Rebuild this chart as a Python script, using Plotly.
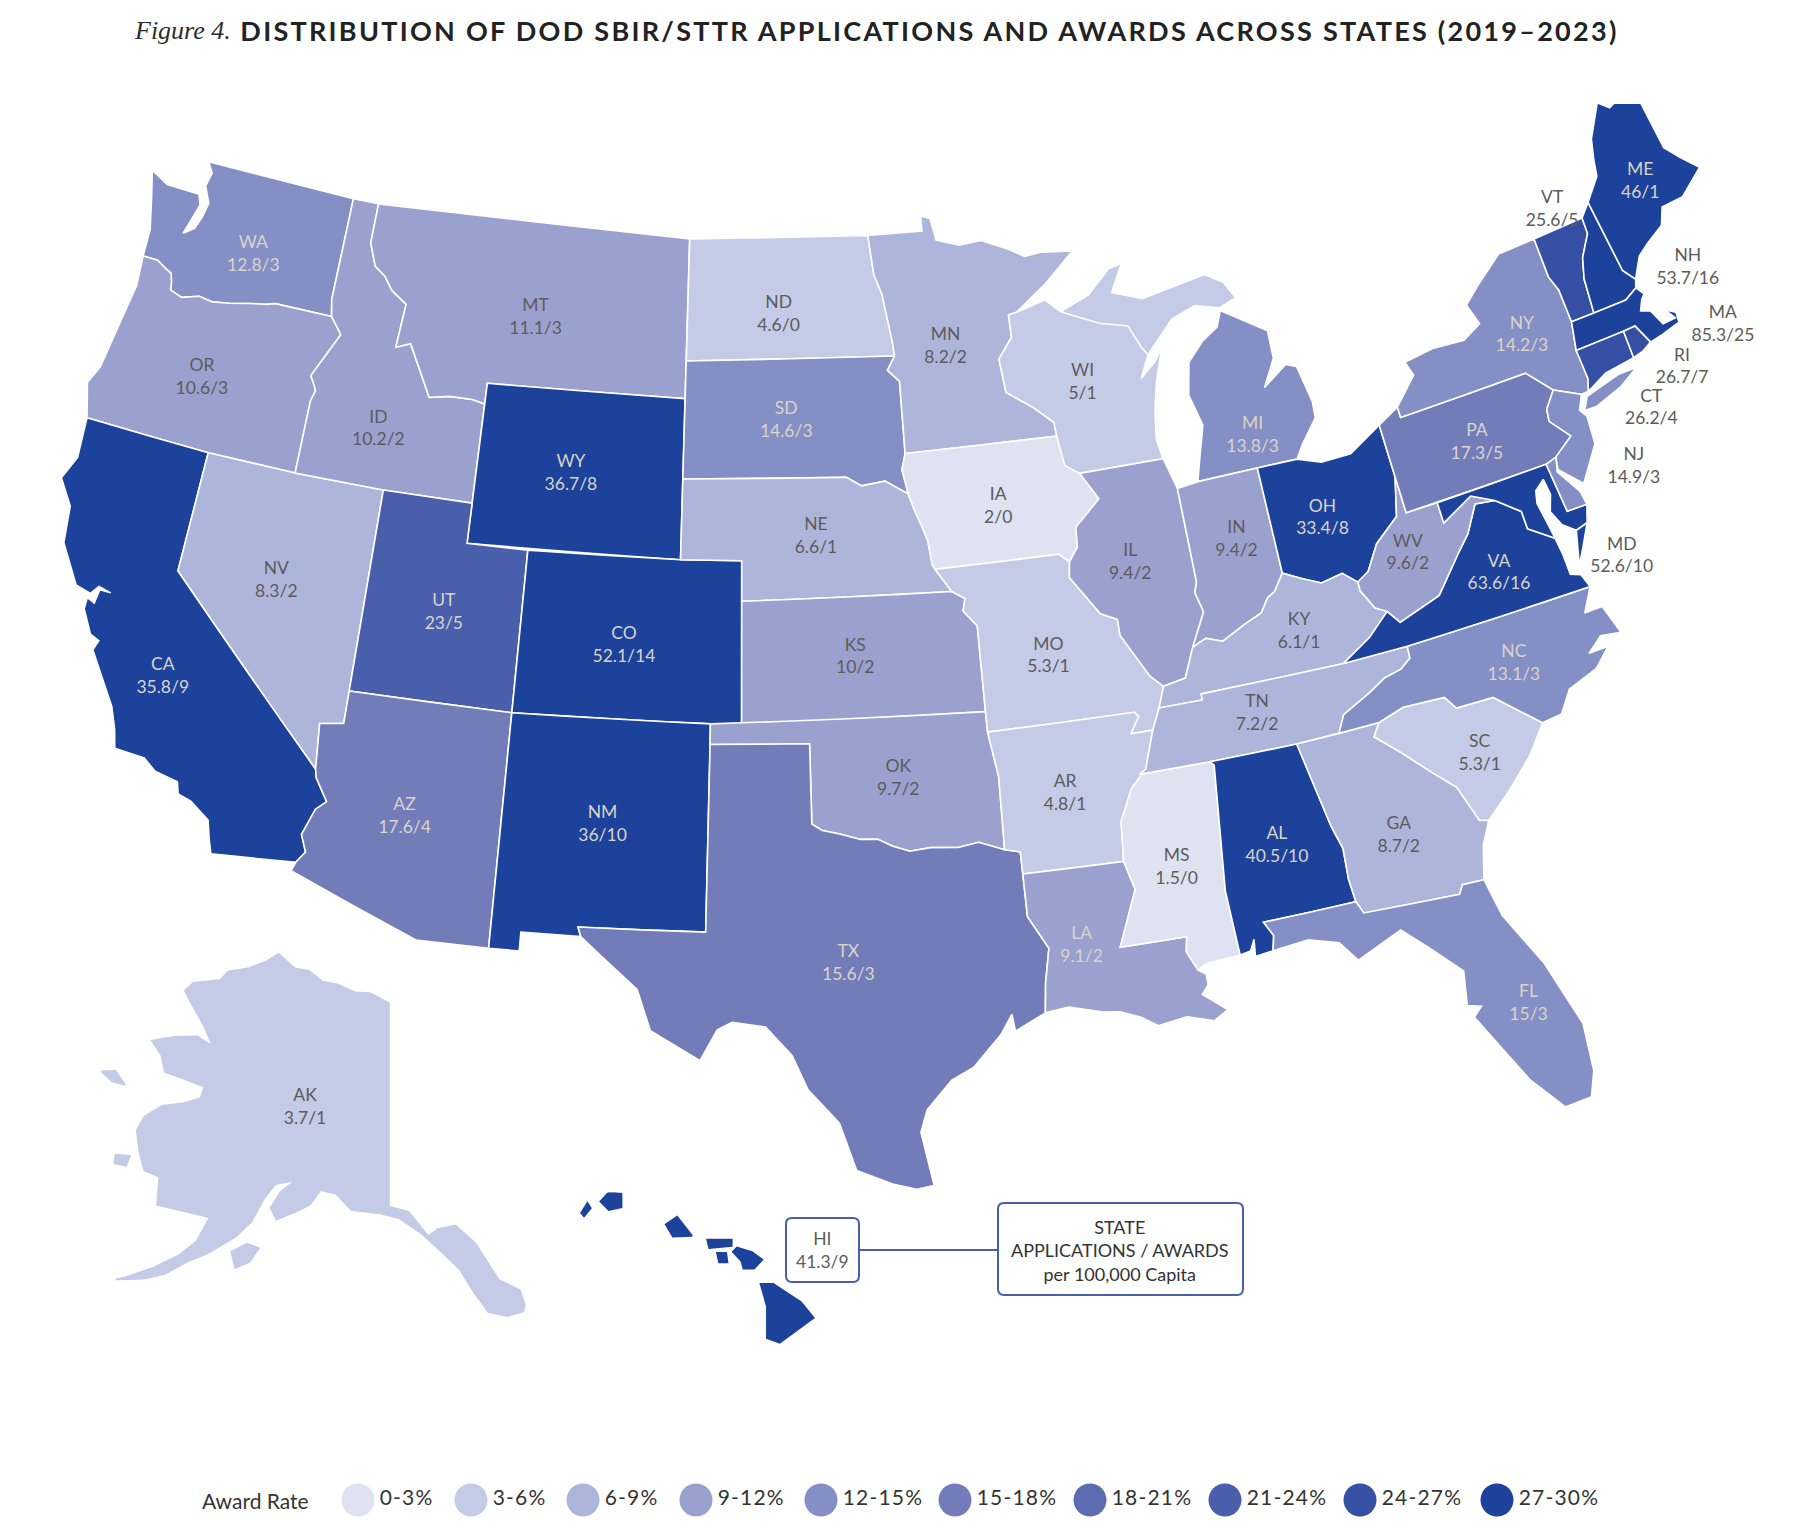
import plotly.graph_objects as go

bin_labels = ["0-3%", "3-6%", "6-9%", "9-12%", "12-15%", "15-18%", "18-21%", "21-24%", "24-27%", "27-30%"]
bin_colors = ["#dfe3f1", "#c4cbe6", "#adb6da", "#9aa1cf", "#848fc6", "#727cb9", "#5d6bb0", "#4a5fab", "#344fa3", "#1c429c"]

state_codes = ["WA", "OR", "CA", "NV", "ID", "MT", "WY", "UT", "AZ", "CO", "NM", "ND", "SD", "NE", "KS", "OK", "TX",
               "MN", "IA", "MO", "AR", "LA", "WI", "IL", "MS", "MI", "IN", "OH", "KY", "TN", "AL", "GA", "FL", "SC",
               "NC", "VA", "WV", "PA", "NY", "NJ", "VT", "NH", "ME", "MA", "CT", "RI", "MD", "DE", "AK", "HI"]
award_bin = [4, 3, 9, 2, 3, 3, 9, 7, 5, 9, 9, 1, 4, 2, 3, 3, 5,
             2, 0, 1, 1, 3, 1, 3, 0, 4, 3, 9, 2, 2, 9, 2, 4, 1,
             4, 9, 3, 5, 4, 4, 8, 9, 9, 9, 8, 8, 9, 4, 1, 9]
applications = [12.8, 10.6, 35.8, 8.3, 10.2, 11.1, 36.7, 23, 17.6, 52.1, 36, 4.6, 14.6, 6.6, 10, 9.7, 15.6,
                8.2, 2, 5.3, 4.8, 9.1, 5, 9.4, 1.5, 13.8, 9.4, 33.4, 6.1, 7.2, 40.5, 8.7, 15, 5.3,
                13.1, 63.6, 9.6, 17.3, 14.2, 14.9, 25.6, 53.7, 46, 85.3, 26.2, 26.7, 52.6, None, 3.7, 41.3]
awards = [3, 3, 9, 2, 2, 3, 8, 5, 4, 14, 10, 0, 3, 1, 2, 2, 3,
          2, 0, 1, 1, 2, 1, 2, 0, 3, 2, 8, 1, 2, 10, 2, 3, 1,
          3, 16, 2, 5, 3, 3, 5, 16, 1, 25, 4, 7, 10, None, 1, 9]

# where each state's two text lines sit (lon, lat)
label_codes = [c for c in state_codes if c not in ("DE", "HI")]
label_lon = [-120.2, -120.85, -119.65, -116.9, -114.55, -109.6, -107.85, -111.5, -111.85, -105.75, -106.1, -100.7, -100.5, -99.6, -98.5, -97.4, -99.1,
             -94.7, -93.5, -92.5, -92.55, -92.65, -90.05, -89.5, -89.7, -84.7, -86.0, -83.15, -84.75, -86.55, -86.8, -83.4, -81.25, -80.55,
             -78.8, -78.35, -80.85, -77.65, -75.0, -73.25, -72.35, -68.95, -69.1, -68.75, -72.0, -70.55, -74.65, -150.0]
label_lat = [47.05, 43.75, 36.4, 39.3, 43.45, 46.75, 42.97, 39.22, 34.2, 38.83, 34.47, 47.1, 44.45, 41.55, 38.55, 35.55, 31.2,
             46.05, 41.95, 38.15, 34.8, 31.15, 44.7, 40.1, 32.65, 42.55, 40.15, 40.15, 37.6, 35.9, 32.7, 32.25, 27.65, 33.6,
             35.4, 37.6, 38.75, 40.8, 42.9, 38.85, 45.5, 42.75, 45.2, 41.1, 40.0, 40.6, 36.95, 64.55]
dark_labels = ["OR", "NV", "ID", "MT", "ND", "NE", "KS", "OK", "MN", "IA", "MO", "AR", "WI", "IL", "MS", "IN", "KY", "TN", "GA",
               "SC", "WV", "NJ", "VT", "NH", "MA", "CT", "RI", "MD", "AK"]

legend_x = [358, 471, 583, 696, 821, 955, 1090, 1225, 1360, 1497]

outlines = {
    "WA": [[(-117.03, 49), (-122.75, 49), (-122.5, 48.75), (-122.6, 48.4), (-122.3, 48.0), (-122.4, 47.6), (-122.55, 47.3), (-122.9, 47.1),
            (-122.75, 47.5), (-122.6, 47.9), (-122.75, 48.15), (-123.2, 48.15), (-124.0, 48.15), (-124.7, 48.38), (-124.4, 47.7), (-124.1, 46.95),
            (-124.05, 46.26), (-123.5, 46.27), (-123.2, 46.15), (-122.9, 46.05), (-122.8, 45.85), (-122.75, 45.65), (-122.3, 45.55), (-121.7, 45.7),
            (-121.2, 45.65), (-120.6, 45.73), (-119.9, 45.85), (-119.3, 45.93), (-119.0, 46.0), (-116.92, 46.0), (-117.04, 46.42)]],
    "OR": [[(-124.05, 46.26), (-123.5, 46.27), (-123.2, 46.15), (-122.9, 46.05), (-122.8, 45.85), (-122.75, 45.65), (-122.3, 45.55), (-121.7, 45.7),
            (-121.2, 45.65), (-120.6, 45.73), (-119.9, 45.85), (-119.3, 45.93), (-119.0, 46.0), (-116.92, 46.0), (-116.46, 45.6), (-116.85, 45.0),
            (-117.2, 44.45), (-117.03, 44.25), (-116.93, 44.1), (-117.03, 43.83), (-117.03, 42), (-120, 42), (-124.2, 42), (-124.55, 42.84),
            (-124.3, 43.3), (-124.1, 44.6), (-123.95, 45.5)]],
    "CA": [[(-124.2, 42), (-120, 42), (-120, 39), (-114.63, 35.0), (-114.57, 34.8), (-114.15, 34.27), (-114.43, 34.05), (-114.7, 33.4), (-114.5, 33.0),
            (-114.72, 32.72), (-117.12, 32.53), (-117.25, 32.85), (-117.4, 33.3), (-118.0, 33.65), (-118.4, 33.75), (-118.5, 34.03), (-119.2, 34.15),
            (-119.6, 34.4), (-120.5, 34.45), (-120.65, 34.9), (-120.9, 35.4), (-121.9, 36.6), (-121.8, 36.85), (-122.1, 36.95), (-122.5, 37.5),
            (-122.5, 37.78), (-122.25, 37.7), (-122.2, 38.05), (-121.85, 38.05), (-122.25, 38.12), (-122.45, 37.9), (-122.95, 38.0), (-123.7, 38.9),
            (-123.85, 39.8), (-124.4, 40.4), (-124.1, 41.0)]],
    "NV": [[(-120, 42), (-117.03, 42), (-114.04, 42), (-114.04, 37), (-114.04, 36.2), (-114.75, 36.1), (-114.63, 35.0), (-120, 39)]],
    "ID": [[(-117.03, 49), (-116.05, 49), (-116.05, 48.0), (-115.72, 47.45), (-115.3, 47.25), (-114.95, 46.93), (-114.35, 46.65), (-114.45, 45.55),
            (-113.95, 45.7), (-113.45, 45.05), (-113.0, 44.45), (-112.3, 44.55), (-111.5, 44.55), (-111.05, 44.48), (-111.05, 42), (-114.04, 42),
            (-117.03, 42), (-117.03, 43.83), (-116.93, 44.1), (-117.03, 44.25), (-117.2, 44.45), (-116.85, 45.0), (-116.46, 45.6), (-116.92, 46.0),
            (-117.04, 46.42)]],
    "MT": [[(-116.05, 49), (-104.05, 49), (-104.05, 45), (-111.05, 45), (-111.05, 44.48), (-111.5, 44.55), (-112.3, 44.55), (-113.0, 44.45),
            (-113.45, 45.05), (-113.95, 45.7), (-114.45, 45.55), (-114.35, 46.65), (-114.95, 46.93), (-115.3, 47.25), (-115.72, 47.45), (-116.05, 48.0)]],
    "WY": [[(-111.05, 45), (-104.05, 45), (-104.05, 41), (-111.05, 41)]],
    "UT": [[(-114.04, 42), (-111.05, 42), (-111.05, 41), (-109.05, 41), (-109.05, 37), (-114.04, 37)]],
    "CO": [[(-109.05, 41), (-104.05, 41), (-102.05, 41), (-102.05, 40), (-102.05, 37), (-103, 37), (-109.05, 37)]],
    "AZ": [[(-114.04, 37), (-109.05, 37), (-109.05, 31.33), (-111.07, 31.33), (-114.81, 32.5), (-114.72, 32.72), (-114.5, 33.0), (-114.7, 33.4),
            (-114.43, 34.05), (-114.15, 34.27), (-114.57, 34.8), (-114.63, 35.0), (-114.75, 36.1), (-114.04, 36.2)]],
    "NM": [[(-109.05, 37), (-103, 37), (-103, 36.5), (-103.05, 32), (-106.62, 32), (-106.53, 31.78), (-108.2, 31.78), (-108.2, 31.33), (-109.05, 31.33)]],
    "ND": [[(-104.05, 49), (-97.23, 49), (-97.1, 48), (-96.85, 47.5), (-96.6, 46.3), (-96.56, 45.94), (-104.05, 45.94)]],
    "SD": [[(-104.05, 45.94), (-96.56, 45.94), (-96.85, 45.6), (-96.45, 45.3), (-96.45, 43.5), (-96.6, 43.1), (-96.45, 42.49), (-97.2, 42.85),
            (-98.0, 42.77), (-98.5, 43.0), (-104.05, 43)]],
    "NE": [[(-104.05, 43), (-98.5, 43), (-98.0, 42.77), (-97.2, 42.85), (-96.45, 42.49), (-96.25, 42.0), (-96.1, 41.7), (-95.93, 41.3), (-95.85, 40.7),
            (-95.77, 40.58), (-95.3, 40), (-102.05, 40), (-102.05, 41), (-104.05, 41)]],
    "KS": [[(-102.05, 40), (-95.3, 40), (-94.9, 39.8), (-95.0, 39.5), (-94.6, 39.1), (-94.62, 37), (-102.05, 37)]],
    "OK": [[(-103, 37), (-94.62, 37), (-94.62, 36.5), (-94.43, 35.4), (-94.48, 33.64), (-95.2, 33.88), (-95.8, 33.8), (-96.6, 33.85), (-97.2, 33.8),
            (-97.7, 33.95), (-98.1, 34.13), (-98.6, 34.15), (-99.2, 34.3), (-99.7, 34.4), (-100, 34.56), (-100, 36.5), (-103, 36.5)]],
    "TX": [[(-103, 36.5), (-100, 36.5), (-100, 34.56), (-99.7, 34.4), (-99.2, 34.3), (-98.6, 34.15), (-98.1, 34.13), (-97.7, 33.95), (-97.2, 33.8),
            (-96.6, 33.85), (-95.8, 33.8), (-95.2, 33.88), (-94.48, 33.64), (-94.04, 33.55), (-94.04, 33.02), (-94.04, 32), (-93.55, 31.2), (-93.75, 30.4),
            (-93.85, 29.7), (-94.7, 29.35), (-94.75, 29.75), (-95.1, 29.3), (-95.9, 28.6), (-96.5, 28.35), (-97.2, 27.7), (-97.4, 27.2), (-97.15, 25.96),
            (-97.6, 25.9), (-98.2, 26.05), (-99.1, 26.4), (-99.5, 27.5), (-100.3, 28.3), (-100.7, 29.1), (-101.4, 29.77), (-102.3, 29.88), (-102.7, 29.7),
            (-103.15, 28.98), (-104.5, 29.65), (-104.9, 30.6), (-106.0, 31.4), (-106.53, 31.78), (-106.62, 32), (-103.05, 32)]],
    "MN": [[(-97.23, 49), (-95.15, 49), (-95.15, 49.38), (-94.8, 49.3), (-94.65, 48.74), (-93.8, 48.55), (-92.95, 48.6), (-92.0, 48.3), (-91.4, 48.06),
            (-90.75, 48.1), (-89.6, 48.0), (-90.8, 47.3), (-92.0, 46.7), (-92.3, 46.66), (-92.3, 46.1), (-92.85, 45.6), (-92.75, 44.75), (-91.9, 44.3),
            (-91.25, 43.85), (-91.22, 43.5), (-96.45, 43.5), (-96.45, 45.3), (-96.85, 45.6), (-96.56, 45.94), (-96.6, 46.3), (-96.85, 47.5), (-97.1, 48)]],
    "IA": [[(-96.45, 43.5), (-91.22, 43.5), (-91.1, 42.75), (-90.65, 42.5), (-90.15, 41.8), (-91.05, 41.2), (-91.1, 40.7), (-91.42, 40.38), (-91.73, 40.6),
            (-95.77, 40.58), (-95.85, 40.7), (-95.93, 41.3), (-96.1, 41.7), (-96.25, 42.0), (-96.45, 42.49), (-96.6, 43.1)]],
    "MO": [[(-95.77, 40.58), (-91.73, 40.6), (-91.42, 40.38), (-91.5, 40.0), (-90.7, 39.0), (-90.2, 38.8), (-90.2, 38.4), (-89.5, 37.3), (-89.15, 37.0),
            (-89.4, 36.5), (-89.7, 36.0), (-90.37, 36.0), (-90.05, 36.38), (-90.15, 36.5), (-94.62, 36.5), (-94.62, 37), (-94.6, 39.1), (-95.0, 39.5),
            (-94.9, 39.8), (-95.3, 40)]],
    "AR": [[(-94.62, 36.5), (-90.15, 36.5), (-90.05, 36.38), (-90.37, 36.0), (-89.7, 36.0), (-90.1, 35.1), (-90.6, 34.7), (-91.05, 33.95), (-91.15, 33.0),
            (-94.04, 33.02), (-94.04, 33.55), (-94.48, 33.64), (-94.43, 35.4)]],
    "LA": [[(-94.04, 33.02), (-91.15, 33.0), (-90.95, 32.3), (-91.6, 31.0), (-89.75, 31.0), (-89.83, 30.65), (-89.6, 30.18), (-89.4, 30.05), (-89.4, 29.8),
            (-89.6, 29.6), (-89.0, 29.15), (-89.4, 28.95), (-90.1, 29.15), (-90.9, 29.05), (-91.3, 29.3), (-91.85, 29.5), (-92.3, 29.55), (-93.2, 29.77),
            (-93.85, 29.7), (-93.75, 30.4), (-93.55, 31.2), (-94.04, 32)]],
    "WI": [[(-92.0, 46.7), (-90.9, 46.9), (-90.4, 46.55), (-89.1, 46.1), (-88.1, 45.9), (-87.8, 45.35), (-87.6, 45.1), (-88.0, 44.55), (-87.4, 44.9),
            (-87.05, 45.25), (-87.5, 44.4), (-87.75, 43.7), (-87.9, 43.0), (-87.8, 42.49), (-90.65, 42.5), (-91.1, 42.75), (-91.22, 43.5), (-91.25, 43.85),
            (-91.9, 44.3), (-92.75, 44.75), (-92.85, 45.6), (-92.3, 46.1), (-92.3, 46.66)],
           [(-90.4, 46.55), (-89.3, 46.85), (-88.4, 47.4), (-87.9, 47.47), (-88.45, 46.8), (-87.4, 46.5), (-85.0, 46.75), (-84.4, 46.45), (-84.1, 46.0),
            (-84.75, 45.85), (-85.6, 46.05), (-86.5, 45.85), (-87.6, 45.1), (-87.8, 45.35), (-88.1, 45.9), (-89.1, 46.1)]],
    "IL": [[(-90.65, 42.5), (-87.8, 42.49), (-87.53, 41.7), (-87.53, 39.35), (-87.65, 39.1), (-87.5, 38.6), (-88.05, 37.8), (-88.45, 37.1), (-89.15, 37.0),
            (-89.5, 37.3), (-90.2, 38.4), (-90.2, 38.8), (-90.7, 39.0), (-91.5, 40.0), (-91.42, 40.38), (-91.1, 40.7), (-91.05, 41.2), (-90.15, 41.8)]],
    "MS": [[(-90.3, 35.0), (-88.2, 35.0), (-88.1, 34.9), (-88.47, 31.9), (-88.4, 30.35), (-89.35, 30.3), (-89.6, 30.18), (-89.83, 30.65), (-89.75, 31.0),
            (-91.6, 31.0), (-90.95, 32.3), (-91.15, 33.0), (-91.05, 33.95), (-90.6, 34.7), (-90.1, 35.1)]],
    "MI": [[(-86.82, 41.76), (-84.8, 41.76), (-83.45, 41.73), (-83.15, 42.05), (-82.5, 42.6), (-82.45, 43.0), (-82.65, 43.95), (-83.0, 44.07), (-83.9, 43.65),
            (-83.35, 44.3), (-83.3, 45.0), (-84.75, 45.78), (-85.0, 45.4), (-85.6, 45.15), (-86.25, 44.7), (-86.5, 43.9), (-86.25, 43.1), (-86.6, 42.3)]],
    "IN": [[(-87.53, 41.7), (-86.82, 41.76), (-84.8, 41.76), (-84.82, 39.1), (-85.2, 38.7), (-85.45, 38.6), (-85.75, 38.27), (-86.3, 38.1), (-87.1, 37.8),
            (-87.6, 37.95), (-88.05, 37.8), (-87.5, 38.6), (-87.65, 39.1), (-87.53, 39.35)]],
    "OH": [[(-84.8, 41.76), (-83.45, 41.73), (-82.7, 41.5), (-81.7, 41.5), (-80.52, 41.98), (-80.52, 40.64), (-80.85, 39.7), (-81.7, 39.2), (-82.2, 38.6),
            (-82.6, 38.42), (-83.0, 38.73), (-83.7, 38.63), (-84.25, 38.85), (-84.82, 39.1)]],
    "KY": [[(-89.15, 37.0), (-88.45, 37.1), (-88.05, 37.8), (-87.6, 37.95), (-87.1, 37.8), (-86.3, 38.1), (-85.75, 38.27), (-85.45, 38.6), (-85.2, 38.7),
            (-84.82, 39.1), (-84.25, 38.85), (-83.7, 38.63), (-83.0, 38.73), (-82.6, 38.42), (-82.6, 38.2), (-82.3, 37.7), (-81.97, 37.54), (-82.7, 37.05),
            (-83.67, 36.6), (-86.5, 36.65), (-88.07, 36.65), (-88.07, 36.5), (-89.4, 36.5)]],
    "TN": [[(-89.4, 36.5), (-88.07, 36.5), (-88.07, 36.65), (-86.5, 36.65), (-83.67, 36.6), (-81.68, 36.59), (-81.7, 36.3), (-82.05, 36.1), (-82.6, 36.0),
            (-83.15, 35.75), (-84.05, 35.4), (-84.32, 34.99), (-85.6, 34.98), (-88.2, 35.0), (-90.3, 35.0), (-90.1, 35.1), (-89.7, 36.0)]],
    "AL": [[(-88.2, 35.0), (-85.6, 34.98), (-85.18, 32.87), (-85.0, 32.3), (-85.05, 31.55), (-85.0, 31.0), (-87.6, 31.0), (-87.4, 30.65), (-87.5, 30.3),
            (-88.0, 30.25), (-87.95, 30.65), (-88.1, 30.4), (-88.4, 30.35), (-88.47, 31.9), (-88.1, 34.9)]],
    "GA": [[(-85.6, 34.98), (-84.32, 34.99), (-83.1, 35.0), (-83.35, 34.7), (-82.75, 34.2), (-82.0, 33.5), (-81.45, 33.0), (-81.1, 32.1), (-80.85, 32.03),
            (-81.2, 31.5), (-81.45, 30.72), (-82.05, 30.75), (-82.2, 30.55), (-84.86, 30.7), (-85.0, 31.0), (-85.05, 31.55), (-85.0, 32.3), (-85.18, 32.87)]],
    "FL": [[(-87.6, 31.0), (-85.0, 31.0), (-84.86, 30.7), (-82.2, 30.55), (-82.05, 30.75), (-81.45, 30.72), (-81.25, 29.8), (-80.55, 28.45), (-80.05, 26.85),
            (-80.15, 25.75), (-80.4, 25.2), (-81.1, 25.15), (-81.75, 25.95), (-82.1, 26.6), (-82.7, 27.7), (-82.45, 27.9), (-82.8, 28.0), (-82.65, 28.8),
            (-83.4, 29.55), (-84.0, 30.1), (-85.3, 29.65), (-85.7, 30.15), (-86.5, 30.38), (-87.5, 30.3), (-87.4, 30.65)]],
    "SC": [[(-83.1, 35.0), (-82.3, 35.2), (-81.05, 35.15), (-80.8, 34.82), (-79.68, 34.8), (-78.55, 33.85), (-79.2, 33.2), (-80.0, 32.6), (-80.85, 32.03),
            (-81.1, 32.1), (-81.45, 33.0), (-82.0, 33.5), (-82.75, 34.2), (-83.35, 34.7)]],
    "NC": [[(-84.32, 34.99), (-83.1, 35.0), (-82.3, 35.2), (-81.05, 35.15), (-80.8, 34.82), (-79.68, 34.8), (-78.55, 33.85), (-77.95, 33.9), (-77.5, 34.4),
            (-76.55, 34.65), (-76.0, 35.05), (-76.6, 35.05), (-76.1, 35.35), (-75.5, 35.25), (-75.75, 36.0), (-76.3, 36.0), (-75.87, 36.55), (-81.68, 36.59),
            (-81.7, 36.3), (-82.05, 36.1), (-82.6, 36.0), (-83.15, 35.75), (-84.05, 35.4)]],
    "VA": [[(-83.67, 36.6), (-81.68, 36.59), (-75.87, 36.55), (-76.0, 36.9), (-76.3, 37.0), (-76.3, 37.5), (-76.35, 37.95), (-77.05, 38.4), (-77.05, 38.85),
            (-77.72, 39.32), (-78.35, 39.4), (-78.87, 38.76), (-79.3, 38.42), (-80.3, 37.55), (-81.68, 37.2), (-81.97, 37.54), (-82.7, 37.05)],
           [(-75.95, 37.12), (-75.65, 37.95), (-75.25, 38.03), (-75.65, 37.5)]],
    "WV": [[(-80.52, 40.64), (-80.52, 39.72), (-79.48, 39.72), (-79.48, 39.2), (-78.4, 39.62), (-77.72, 39.32), (-78.35, 39.4), (-78.87, 38.76), (-79.3, 38.42),
            (-80.3, 37.55), (-81.68, 37.2), (-81.97, 37.54), (-82.3, 37.7), (-82.6, 38.2), (-82.6, 38.42), (-82.2, 38.6), (-81.7, 39.2), (-80.85, 39.7)]],
    "MD": [[(-79.48, 39.72), (-75.79, 39.72), (-75.7, 38.46), (-75.05, 38.45), (-75.25, 38.03), (-75.65, 37.95), (-76.0, 38.2), (-76.2, 38.6), (-76.0, 39.0),
            (-76.05, 39.4), (-76.4, 39.2), (-76.5, 38.9), (-76.4, 38.3), (-76.35, 37.95), (-77.05, 38.4), (-77.05, 38.85), (-77.72, 39.32), (-78.4, 39.62), (-79.48, 39.2)]],
    "DE": [[(-75.79, 39.72), (-75.42, 39.8), (-75.55, 39.45), (-75.1, 38.8), (-75.05, 38.45), (-75.7, 38.46)]],
    "PA": [[(-80.52, 41.98), (-79.76, 42.27), (-79.76, 42.0), (-75.35, 42.0), (-74.7, 41.36), (-75.13, 40.98), (-75.2, 40.68), (-74.72, 40.15), (-75.42, 39.8),
            (-75.79, 39.72), (-80.52, 39.72), (-80.52, 40.64)]],
    "NJ": [[(-74.7, 41.36), (-73.9, 41.0), (-74.15, 40.65), (-74.0, 40.45), (-74.1, 39.75), (-74.9, 38.95), (-75.5, 39.5), (-75.42, 39.8), (-74.72, 40.15),
            (-75.2, 40.68), (-75.13, 40.98)]],
    "NY": [[(-79.76, 42.0), (-75.35, 42), (-74.7, 41.36), (-73.9, 41.0), (-73.65, 41.0), (-73.5, 41.3), (-73.5, 42.05), (-73.27, 42.75), (-73.25, 43.6), (-73.4, 44.0),
            (-73.35, 45.01), (-74.7, 45.0), (-75.8, 44.45), (-76.4, 44.1), (-76.2, 43.55), (-76.9, 43.3), (-78.0, 43.37), (-79.05, 43.27), (-78.9, 42.9), (-79.76, 42.27)],
           [(-74.0, 40.6), (-73.75, 40.9), (-72.5, 41.1), (-71.9, 41.07), (-72.6, 40.8), (-73.6, 40.58)]],
    "VT": [[(-73.35, 45.01), (-71.5, 45.01), (-71.55, 44.6), (-72.05, 44.1), (-72.3, 43.6), (-72.46, 42.73), (-73.27, 42.75), (-73.25, 43.6), (-73.4, 44.0)]],
    "NH": [[(-71.5, 45.01), (-71.08, 45.3), (-70.98, 43.4), (-70.7, 43.07), (-70.82, 42.87), (-71.3, 42.7), (-72.46, 42.73), (-72.3, 43.6), (-72.05, 44.1), (-71.55, 44.6)]],
    "ME": [[(-71.08, 45.3), (-70.4, 45.8), (-70.25, 46.2), (-70.0, 46.7), (-69.23, 47.45), (-68.9, 47.2), (-68.3, 47.35), (-67.8, 47.07), (-67.8, 45.7), (-67.45, 45.3),
            (-67.0, 44.85), (-68.0, 44.4), (-68.8, 44.4), (-69.1, 44.0), (-69.8, 43.75), (-70.25, 43.55), (-70.7, 43.07), (-70.98, 43.4)]],
    "MA": [[(-73.5, 42.05), (-71.8, 42.02), (-71.38, 42.02), (-71.13, 41.5), (-70.65, 41.55), (-70.0, 41.65), (-69.95, 41.9), (-70.25, 42.07), (-70.05, 41.78), (-70.5, 41.78),
            (-70.7, 42.2), (-71.0, 42.3), (-70.8, 42.55), (-70.65, 42.65), (-70.82, 42.87), (-71.3, 42.7), (-72.46, 42.73), (-73.27, 42.75)]],
    "CT": [[(-73.5, 42.05), (-71.8, 42.02), (-71.85, 41.32), (-72.9, 41.25), (-73.65, 41.0), (-73.5, 41.3)]],
    "RI": [[(-71.8, 42.02), (-71.38, 42.02), (-71.13, 41.5), (-71.5, 41.37), (-71.85, 41.32)]],
    "AK": [[(-141, 69.65), (-143.5, 70.1), (-145.5, 70.1), (-148, 70.4), (-150, 70.45), (-152, 70.85), (-154, 70.85), (-156.6, 71.35), (-158, 70.85), (-160, 70.35),
            (-162.5, 69.9), (-163.1, 69.4), (-166.2, 68.85), (-166.8, 68.35), (-164.5, 67.6), (-163.0, 67.1), (-161.5, 66.4), (-163.5, 66.6), (-166.0, 66.2),
            (-168.1, 65.65), (-166.5, 65.2), (-165.5, 64.55), (-163.5, 64.55), (-161.0, 64.5), (-161.0, 63.95), (-162.5, 63.5), (-164.5, 63.05), (-165.8, 62.3),
            (-166.0, 61.6), (-165.0, 60.7), (-164.0, 60.0), (-162.5, 59.95), (-161.9, 58.7), (-160.5, 58.75), (-158.5, 58.8), (-157.1, 58.8), (-157.7, 57.6),
            (-158.8, 56.8), (-160.6, 55.9), (-162.5, 55.1), (-163.2, 54.85), (-161, 55.3), (-159.5, 55.8), (-158, 56.6), (-156.5, 57.2), (-154.5, 58.2),
            (-153.4, 59.0), (-152.6, 60.2), (-151.8, 60.9), (-150, 61.2), (-151.2, 60.6), (-151.9, 59.8), (-151.2, 59.3), (-149.5, 59.8), (-148.3, 60.2), (-147.5, 60.9),
            (-146, 60.8), (-144.5, 60.1), (-142, 60.0), (-140, 59.75), (-138, 59.0), (-136.5, 58.2), (-135, 57.3), (-134, 56.2), (-133, 55.2), (-131.5, 54.9), (-130.2, 55.0),
            (-130, 55.3), (-130.2, 56.0), (-131.8, 56.6), (-133.4, 58.4), (-135, 59.3), (-136.6, 59.2), (-137.5, 58.9), (-139.2, 60.05), (-141, 60.3)],
           [(-154.6, 57.5), (-153.4, 58.0), (-152.3, 57.9), (-152.9, 57.2), (-154.0, 56.8)],
           [(-171.6, 63.4), (-170.3, 63.7), (-168.8, 63.3), (-170.2, 63.2)],
           [(-167.0, 60.2), (-165.7, 60.4), (-165.7, 59.9), (-166.8, 59.8)]],
    "HI": [[(-156.05, 20.25), (-155.75, 20.25), (-155.1, 19.85), (-154.8, 19.5), (-155.6, 18.95), (-155.9, 19.05), (-155.9, 19.75)],
           [(-156.7, 20.95), (-156.6, 21.05), (-156.25, 20.95), (-156.0, 20.78), (-156.2, 20.58), (-156.45, 20.58), (-156.5, 20.75)],
           [(-157.3, 21.22), (-156.72, 21.22), (-156.72, 21.08), (-157.25, 21.03)],
           [(-157.07, 20.93), (-156.85, 20.93), (-156.82, 20.72), (-157.02, 20.72)],
           [(-158.27, 21.55), (-158.0, 21.72), (-157.65, 21.3), (-158.1, 21.28)],
           [(-159.8, 22.05), (-159.6, 22.25), (-159.3, 22.22), (-159.3, 21.92), (-159.6, 21.86)],
           [(-160.25, 21.8), (-160.1, 22.02), (-160.02, 21.9), (-160.18, 21.72)]],
}


def rewind(ring):
    # d3 wants the outer ring clockwise, otherwise the polygon fills the globe
    closed = list(ring) + [ring[0]]
    area = sum(a[0] * b[1] - b[0] * a[1] for a, b in zip(closed[:-1], closed[1:]))
    if area > 0:
        closed.reverse()
    return closed


def dom(x0, x1, y0, y1):
    return dict(x=[x0 / 1800, x1 / 1800], y=[1 - y1 / 1537, 1 - y0 / 1537])


def base_geo(domain, lon_range, lat_range, rot, parallels=None, ptype="conic equal area", scale=1, center=None):
    proj = dict(type=ptype, rotation=dict(lon=rot), scale=scale)
    if parallels:
        proj["parallels"] = parallels
    geo = dict(domain=domain, visible=False, bgcolor="rgba(0,0,0,0)", showframe=False, projection=proj,
               lonaxis=dict(range=lon_range), lataxis=dict(range=lat_range))
    if center:
        geo["center"] = center
    return geo


fig = go.Figure()

# choropleth always wants the cdn topojson, so the states are filled scattergeo outlines
for i, code in enumerate(state_codes):
    lon, lat = [], []
    for ring in outlines[code]:
        for p in rewind(ring):
            lon.append(p[0])
            lat.append(p[1])
        lon.append(None)
        lat.append(None)
    geo_id = "geo2" if code == "AK" else "geo3" if code == "HI" else "geo"
    color = bin_colors[award_bin[i]]
    edge = color if code in ("AK", "HI") else "white"
    fig.add_trace(go.Scattergeo(lon=lon[:-1], lat=lat[:-1], mode="lines", fill="toself", fillcolor=color,
                                line=dict(color=edge, width=1.6), name=code, hoverinfo="name", geo=geo_id))

label_text = []
for c in label_codes:
    i = state_codes.index(c)
    label_text.append(f"{c}<br>{applications[i]}/{awards[i]}")
label_color = ["#5c5c5c" if c in dark_labels else "#d9d4c9" for c in label_codes]
main_idx = [i for i, c in enumerate(label_codes) if c != "AK"]
ak_idx = [label_codes.index("AK")]
for geo_id, idx in [("geo", main_idx), ("geo2", ak_idx)]:
    fig.add_trace(go.Scattergeo(lon=[label_lon[i] for i in idx], lat=[label_lat[i] for i in idx], mode="text",
                                text=[label_text[i] for i in idx], textposition="middle center",
                                textfont=dict(family="Lato", size=17.5, color=[label_color[i] for i in idx]),
                                hoverinfo="skip", geo=geo_id))

# legend row
fig.add_trace(go.Scatter(x=legend_x, y=[1500] * len(legend_x), mode="markers+text", text=bin_labels,
                         textposition="middle right", textfont=dict(family="Lato", size=21, color="#333333"),
                         marker=dict(size=33, color=bin_colors, line=dict(width=0)), hoverinfo="skip", xaxis="x", yaxis="y"))


def rounded(x0, y0, x1, y1, r=6):
    return (f"M{x0 + r},{y0} L{x1 - r},{y0} Q{x1},{y0} {x1},{y0 + r} L{x1},{y1 - r} Q{x1},{y1} {x1 - r},{y1} "
            f"L{x0 + r},{y1} Q{x0},{y1} {x0},{y1 - r} L{x0},{y0 + r} Q{x0},{y0} {x0 + r},{y0} Z")


box_line = dict(color="#4a5fb0", width=2)
shapes = [dict(type="path", path=rounded(786, 1218, 859, 1282), xref="x", yref="y", line=box_line),
          dict(type="path", path=rounded(998, 1203, 1243, 1295), xref="x", yref="y", line=box_line),
          dict(type="line", x0=859, x1=998, y0=1250, y1=1250, xref="x", yref="y", line=box_line)]


def note(x, y, text, size, anchor="center", family="Lato", color="#333333", **kw):
    return dict(x=x, y=y, xref="x", yref="y", text=text, showarrow=False, xanchor=anchor, yanchor="middle",
                font=dict(family=family, size=size, color=color, **kw))


annotations = [
    note(132, 30, "<i>Figure 4.</i>", 26, anchor="left", family="Liberation Serif", color="#2b2b2b"),
    note(929, 30, "DISTRIBUTION OF DOD SBIR/STTR APPLICATIONS AND AWARDS ACROSS STATES (2019\u20132023)", 27,
         color="#222222", weight=700),
    note(822, 1250, "HI<br>41.3/9", 17.5, color="#5c5c5c"),
    note(1120, 1250, "STATE<br>APPLICATIONS / AWARDS<br>per 100,000 Capita", 18, color="#333333"),
    note(255, 1500, "Award Rate", 21),
]

fig.update_layout(
    width=1800, height=1537, margin=dict(l=0, r=0, t=0, b=0), paper_bgcolor="white", plot_bgcolor="white", showlegend=False,
    xaxis=dict(range=[0, 1800], visible=False, domain=[0, 1], fixedrange=True),
    yaxis=dict(range=[1537, 0], visible=False, domain=[0, 1], fixedrange=True),
    geo=base_geo(dom(0, 1800, 40, 1320), [-125, -66.5], [22, 54], -102, [50, 56], ptype="conic conformal", scale=1.318,
                 center=dict(lon=-97.15, lat=37.94)),
    geo2=base_geo(dom(60, 718, 866, 1440), [-172, -129.5], [54, 71.5], -141, [55, 65], scale=0.806),
    geo3=base_geo(dom(580, 817, 1190, 1348), [-160.3, -154.75], [18.9, 22.25], -157.5, ptype="mercator"),
    shapes=shapes, annotations=annotations,
)

spacing = """
document.body.style.margin = '0';
setTimeout(function() {
  document.querySelectorAll('.annotation-text').forEach(function(t) {
    if (t.textContent.indexOf('DISTRIBUTION') === 0) t.style.letterSpacing = '2.27px';
  });
  document.querySelectorAll('.cartesianlayer .textpoint text').forEach(function(t) {
    t.style.letterSpacing = '1.2px';
  });
}, 100);
"""
fig.write_html("out.html", post_script=spacing, config={"displayModeBar": False})
